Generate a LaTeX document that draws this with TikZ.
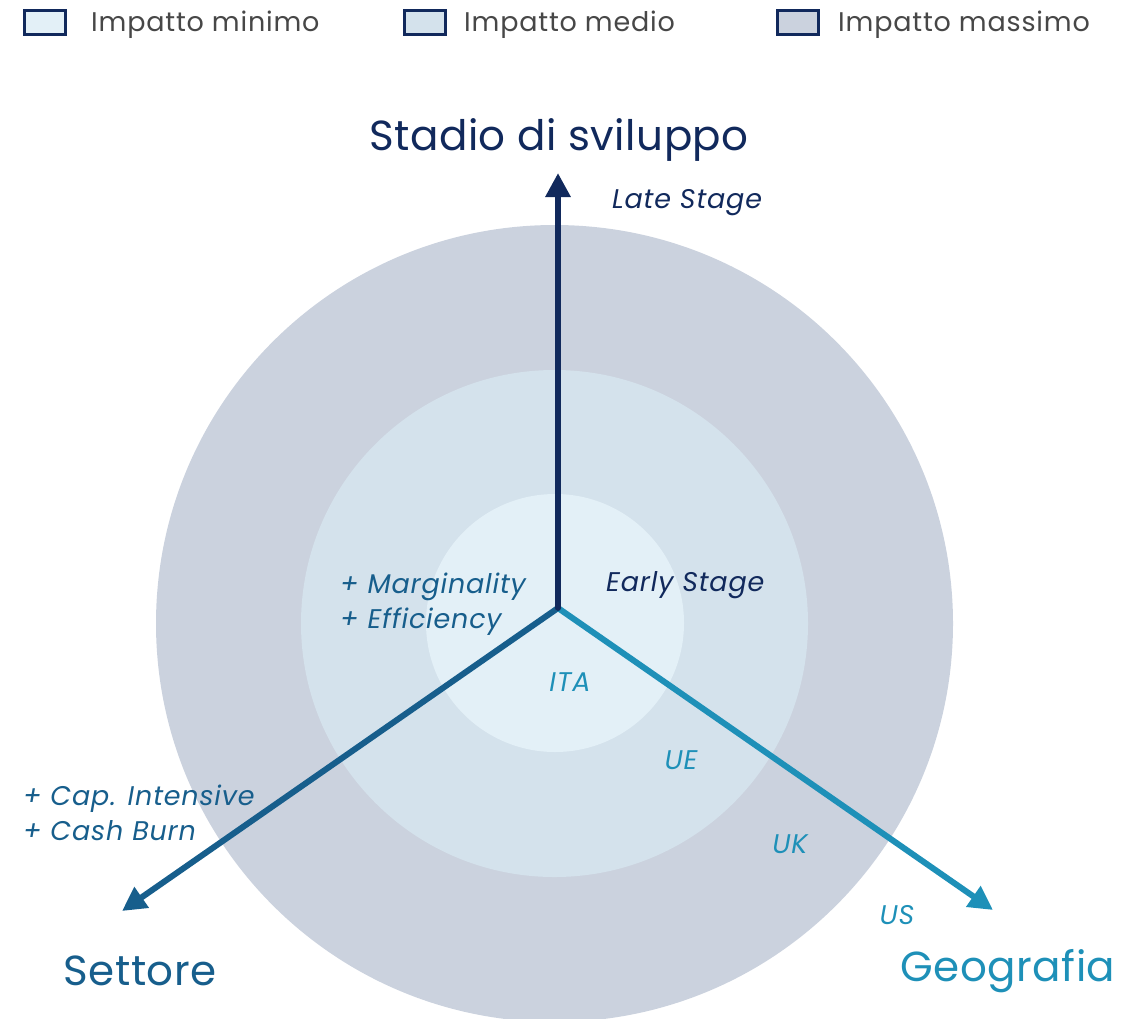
\documentclass[tikz,border=0pt]{standalone}
\usepackage{fontspec}
\setmainfont{Poppins}
\usetikzlibrary{arrows.meta}
\definecolor{cOuter}{HTML}{CBD2DE}
\definecolor{cMid}{HTML}{D4E2EC}
\definecolor{cIn}{HTML}{E3F0F7}
\definecolor{cNavy}{HTML}{11295C}
\definecolor{cSet}{HTML}{175E8C}
\definecolor{cGeo}{HTML}{1E90B8}
\definecolor{cGray}{HTML}{474747}
\newfontfamily\legfont[LetterSpace=3]{Poppins}
\newfontfamily\titfont[LetterSpace=1.2]{Poppins}
\newfontfamily\labfont[LetterSpace=3]{Poppins}
\begin{document}
\begin{tikzpicture}[x=1pt,y=-1pt,
  legbox/.style={draw=cNavy,line width=2.2pt,minimum width=41pt,minimum height=24pt,inner sep=0pt},
  legtext/.style={anchor=west,text=cGray,font=\legfont\fontsize{27}{30}\selectfont,inner sep=0pt},
  axis/.style={line width=6pt,-{Triangle[length=24pt,width=24pt]}},
  title/.style={font=\titfont\fontsize{42}{46}\selectfont,inner sep=0pt},
  lab/.style={font=\labfont\fontsize{27}{35}\selectfont\itshape,inner sep=0pt}]
\useasboundingbox (0,0) rectangle (1123,1018);
% circles
\fill[cOuter] (554.5,623.5) circle (398.5pt);
\fill[cMid] (554.5,623.5) circle (253.5pt);
\fill[cIn] (555,623) circle (129pt);
% legend
\node[legbox,fill=cIn] (l1) at (45,22.5) {};
\node[legtext] (t1) at (91,25) {Impatto minimo};
\node[legbox,fill=cMid] (l2) at (425,22.5) {};
\node[legtext] (t2) at (464,25) {Impatto medio};
\node[legbox,fill=cOuter] (l3) at (798,22.5) {};
\node[legtext] (t3) at (838,25) {Impatto massimo};
% axes
\coordinate (o) at (558,608);
\coordinate (up) at (558,173);
\coordinate (sl) at (122,911);
\coordinate (gr) at (993,910);
\draw[axis,cSet] (o) -- (sl);
\draw[axis,cGeo] (o) -- (gr);
\draw[axis,cNavy] (o) -- (up);
\fill[cNavy] (o) circle (3pt);
% titles
\node[title,text=cNavy] (ts) at (559,140) {Stadio di sviluppo};
\node[title,text=cSet] (tset) at (140,971) {Settore};
\node[title,text=cGeo] (tgeo) at (1008,971) {Geografia};
% labels
\node[lab,text=cNavy,anchor=west] (late) at (612,203) {Late Stage};
\node[lab,text=cNavy,anchor=west] (early) at (606,585) {Early Stage};
\node[lab,text=cSet,anchor=west,align=left] (marg) at (340,604) {+ Marginality\\+ Efficiency};
\node[lab,text=cSet,anchor=west,align=left] (cap) at (23,813) {+ Cap. Intensive\\+ Cash Burn};
\node[lab,text=cGeo] (ita) at (570,682) {ITA};
\node[lab,text=cGeo] (ue) at (681,760) {UE};
\node[lab,text=cGeo] (uk) at (790,844) {UK};
\node[lab,text=cGeo] (us) at (897,915) {US};
\end{tikzpicture}
\end{document}
